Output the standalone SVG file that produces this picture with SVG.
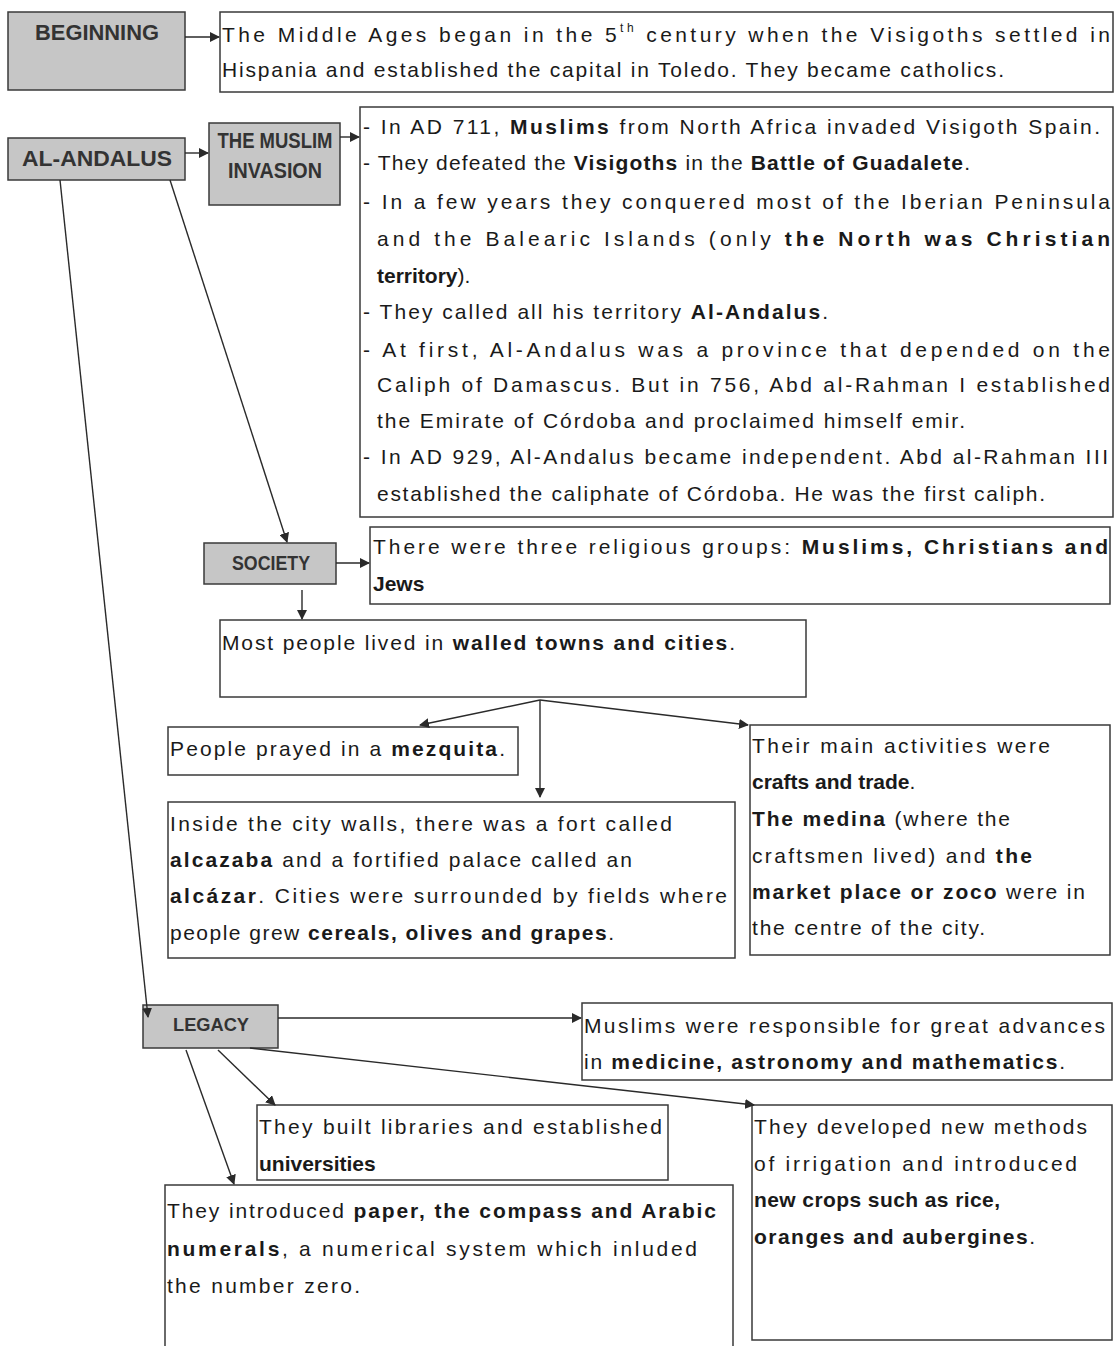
<svg xmlns="http://www.w3.org/2000/svg" width="1119" height="1346" viewBox="0 0 1119 1346">
<style>
  .head rect { fill: #c6c6c6; stroke: #3a3a3a; stroke-width: 1.5; }
  .head text { font-family: "Liberation Sans", Arial, sans-serif; font-size: 22px; font-weight: bold; fill: #333333; text-anchor: middle; }
  .note rect { fill: #ffffff; stroke: #3a3a3a; stroke-width: 1.5; }
  .note text { font-family: "Liberation Sans", Arial, sans-serif; font-size: 21px; fill: #1a1a1a; }
  .b { font-weight: bold; }
  #connectors line { stroke: #2a2a2a; stroke-width: 1.4; fill: none; marker-end: url(#arrow); }
</style>
<defs>
  <marker id="arrow" viewBox="0 0 10 10" refX="9" refY="5" markerWidth="10" markerHeight="10" markerUnits="userSpaceOnUse" orient="auto">
    <path d="M0,0 L10,5 L0,10 z" fill="#2a2a2a"/>
  </marker>
</defs>
<rect width="1119" height="1346" fill="#ffffff"/>

<!-- header nodes -->
<g id="beginning" class="head">
  <rect x="8" y="12" width="177" height="78"/>
  <text x="97" y="40" textLength="124" lengthAdjust="spacingAndGlyphs">BEGINNING</text>
</g>
<g id="al-andalus" class="head">
  <rect x="8" y="138" width="177" height="42"/>
  <text x="97" y="166" textLength="150" lengthAdjust="spacingAndGlyphs">AL-ANDALUS</text>
</g>
<g id="muslim-invasion" class="head">
  <rect x="209" y="123" width="131" height="82"/>
  <text x="275" y="148" textLength="115" lengthAdjust="spacingAndGlyphs">THE MUSLIM</text>
  <text x="275" y="178" textLength="94" lengthAdjust="spacingAndGlyphs">INVASION</text>
</g>
<g id="society" class="head">
  <rect x="204" y="543" width="132" height="41"/>
  <text x="271" y="570" style="font-size:20px" textLength="78" lengthAdjust="spacingAndGlyphs">SOCIETY</text>
</g>
<g id="legacy" class="head">
  <rect x="143" y="1005" width="135" height="43"/>
  <text x="211" y="1031" style="font-size:19px" textLength="76" lengthAdjust="spacingAndGlyphs">LEGACY</text>
</g>

<!-- text nodes -->
<g id="beginning-text" class="note">
  <rect x="220" y="12" width="893" height="80"/>
  <text x="222" y="42" textLength="888" lengthAdjust="spacing">The Middle Ages began in the 5<tspan font-size="12" dy="-10">th</tspan><tspan dy="10"> century when the Visigoths settled in</tspan></text>
  <text x="222" y="77" textLength="782" lengthAdjust="spacing">Hispania and established the capital in Toledo. They became catholics.</text>
</g>

<g id="invasion-text" class="note">
  <rect x="360" y="107" width="753" height="410"/>
  <text x="363" y="134" textLength="737" lengthAdjust="spacing">- In AD 711, <tspan class="b">Muslims</tspan> from North Africa invaded Visigoth Spain.</text>
  <text x="363" y="170" textLength="607" lengthAdjust="spacing">- They defeated the <tspan class="b">Visigoths</tspan> in the <tspan class="b">Battle of Guadalete</tspan>.</text>
  <text x="363" y="209" textLength="747" lengthAdjust="spacing">- In a few years they conquered most of the Iberian Peninsula</text>
  <text x="377" y="246" textLength="733" lengthAdjust="spacing">and the Balearic Islands (only <tspan class="b">the North was Christian</tspan></text>
  <text x="377" y="283"><tspan class="b">territory</tspan>).</text>
  <text x="363" y="319" textLength="465" lengthAdjust="spacing">- They called all his territory <tspan class="b">Al-Andalus</tspan>.</text>
  <text x="363" y="357" textLength="747" lengthAdjust="spacing">- At first, Al-Andalus was a province that depended on the</text>
  <text x="377" y="392" textLength="733" lengthAdjust="spacing">Caliph of Damascus. But in 756, Abd al-Rahman I established</text>
  <text x="377" y="428" textLength="588" lengthAdjust="spacing">the Emirate of Córdoba and proclaimed himself emir.</text>
  <text x="363" y="464" textLength="745" lengthAdjust="spacing">- In AD 929, Al-Andalus became independent. Abd al-Rahman III</text>
  <text x="377" y="501" textLength="668" lengthAdjust="spacing">established the caliphate of Córdoba. He was the first caliph.</text>
</g>

<g id="society-text" class="note">
  <rect x="370" y="527" width="740" height="77"/>
  <text x="373" y="554" textLength="735" lengthAdjust="spacing">There were three religious groups: <tspan class="b">Muslims, Christians and</tspan></text>
  <text x="373" y="591" class="b">Jews</text>
</g>

<g id="towns" class="note">
  <rect x="220" y="620" width="586" height="77"/>
  <text x="222" y="650" textLength="513" lengthAdjust="spacing">Most people lived in <tspan class="b">walled towns and cities</tspan>.</text>
</g>

<g id="mezquita" class="note">
  <rect x="168" y="727" width="350" height="48"/>
  <text x="170" y="756" textLength="335" lengthAdjust="spacing">People prayed in a <tspan class="b">mezquita</tspan>.</text>
</g>

<g id="city-walls" class="note">
  <rect x="168" y="802" width="567" height="156"/>
  <text x="170" y="831" textLength="502" lengthAdjust="spacing">Inside the city walls, there was a fort called</text>
  <text x="170" y="867" textLength="462" lengthAdjust="spacing"><tspan class="b">alcazaba</tspan> and a fortified palace called an</text>
  <text x="170" y="903" textLength="557" lengthAdjust="spacing"><tspan class="b">alcázar</tspan>. Cities were surrounded by fields where</text>
  <text x="170" y="940" textLength="444" lengthAdjust="spacing">people grew <tspan class="b">cereals, olives and grapes</tspan>.</text>
</g>

<g id="activities" class="note">
  <rect x="750" y="725" width="360" height="230"/>
  <text x="752" y="753" textLength="298" lengthAdjust="spacing">Their main activities were</text>
  <text x="752" y="789"><tspan class="b">crafts and trade</tspan>.</text>
  <text x="752" y="826" textLength="258" lengthAdjust="spacing"><tspan class="b">The medina</tspan> (where the</text>
  <text x="752" y="863" textLength="280" lengthAdjust="spacing">craftsmen lived) and <tspan class="b">the</tspan></text>
  <text x="752" y="899" textLength="333" lengthAdjust="spacing"><tspan class="b">market place or zoco</tspan> were in</text>
  <text x="752" y="935" textLength="233" lengthAdjust="spacing">the centre of the city.</text>
</g>

<g id="advances" class="note">
  <rect x="582" y="1003" width="530" height="77"/>
  <text x="584" y="1033" textLength="521" lengthAdjust="spacing">Muslims were responsible for great advances</text>
  <text x="584" y="1069" textLength="481" lengthAdjust="spacing">in <tspan class="b">medicine, astronomy and mathematics</tspan>.</text>
</g>

<g id="libraries" class="note">
  <rect x="257" y="1105" width="411" height="75"/>
  <text x="259" y="1134" textLength="403" lengthAdjust="spacing">They built libraries and established</text>
  <text x="259" y="1171" class="b">universities</text>
</g>

<g id="irrigation" class="note">
  <rect x="752" y="1105" width="360" height="235"/>
  <text x="754" y="1134" textLength="333" lengthAdjust="spacing">They developed new methods</text>
  <text x="754" y="1171" textLength="323" lengthAdjust="spacing">of irrigation and introduced</text>
  <text x="754" y="1207" textLength="246" lengthAdjust="spacing" class="b">new crops such as rice,</text>
  <text x="754" y="1244" textLength="281" lengthAdjust="spacing"><tspan class="b">oranges and aubergines</tspan>.</text>
</g>

<g id="numerals" class="note">
  <rect x="165" y="1185" width="568" height="170"/>
  <text x="167" y="1218" textLength="549" lengthAdjust="spacing">They introduced <tspan class="b">paper, the compass and Arabic</tspan></text>
  <text x="167" y="1256" textLength="530" lengthAdjust="spacing"><tspan class="b">numerals</tspan>, a numerical system which inluded</text>
  <text x="167" y="1293" textLength="193" lengthAdjust="spacing">the number zero.</text>
</g>

<!-- connectors -->
<g id="connectors">
  <line x1="185" y1="37" x2="219" y2="37"/>
  <line x1="185" y1="153" x2="208" y2="153"/>
  <line x1="340" y1="137" x2="359" y2="137"/>
  <line x1="170" y1="180" x2="287" y2="542"/>
  <line x1="336" y1="563" x2="369" y2="563"/>
  <line x1="302" y1="590" x2="302" y2="619"/>
  <line x1="540" y1="700" x2="420" y2="725"/>
  <line x1="540" y1="700" x2="540" y2="797"/>
  <line x1="540" y1="700" x2="748" y2="725"/>
  <line x1="60" y1="180" x2="148" y2="1017"/>
  <line x1="278" y1="1018" x2="581" y2="1018"/>
  <line x1="218" y1="1050" x2="275" y2="1105"/>
  <line x1="250" y1="1048" x2="754" y2="1105"/>
  <line x1="186" y1="1050" x2="234" y2="1184"/>
</g>
</svg>
